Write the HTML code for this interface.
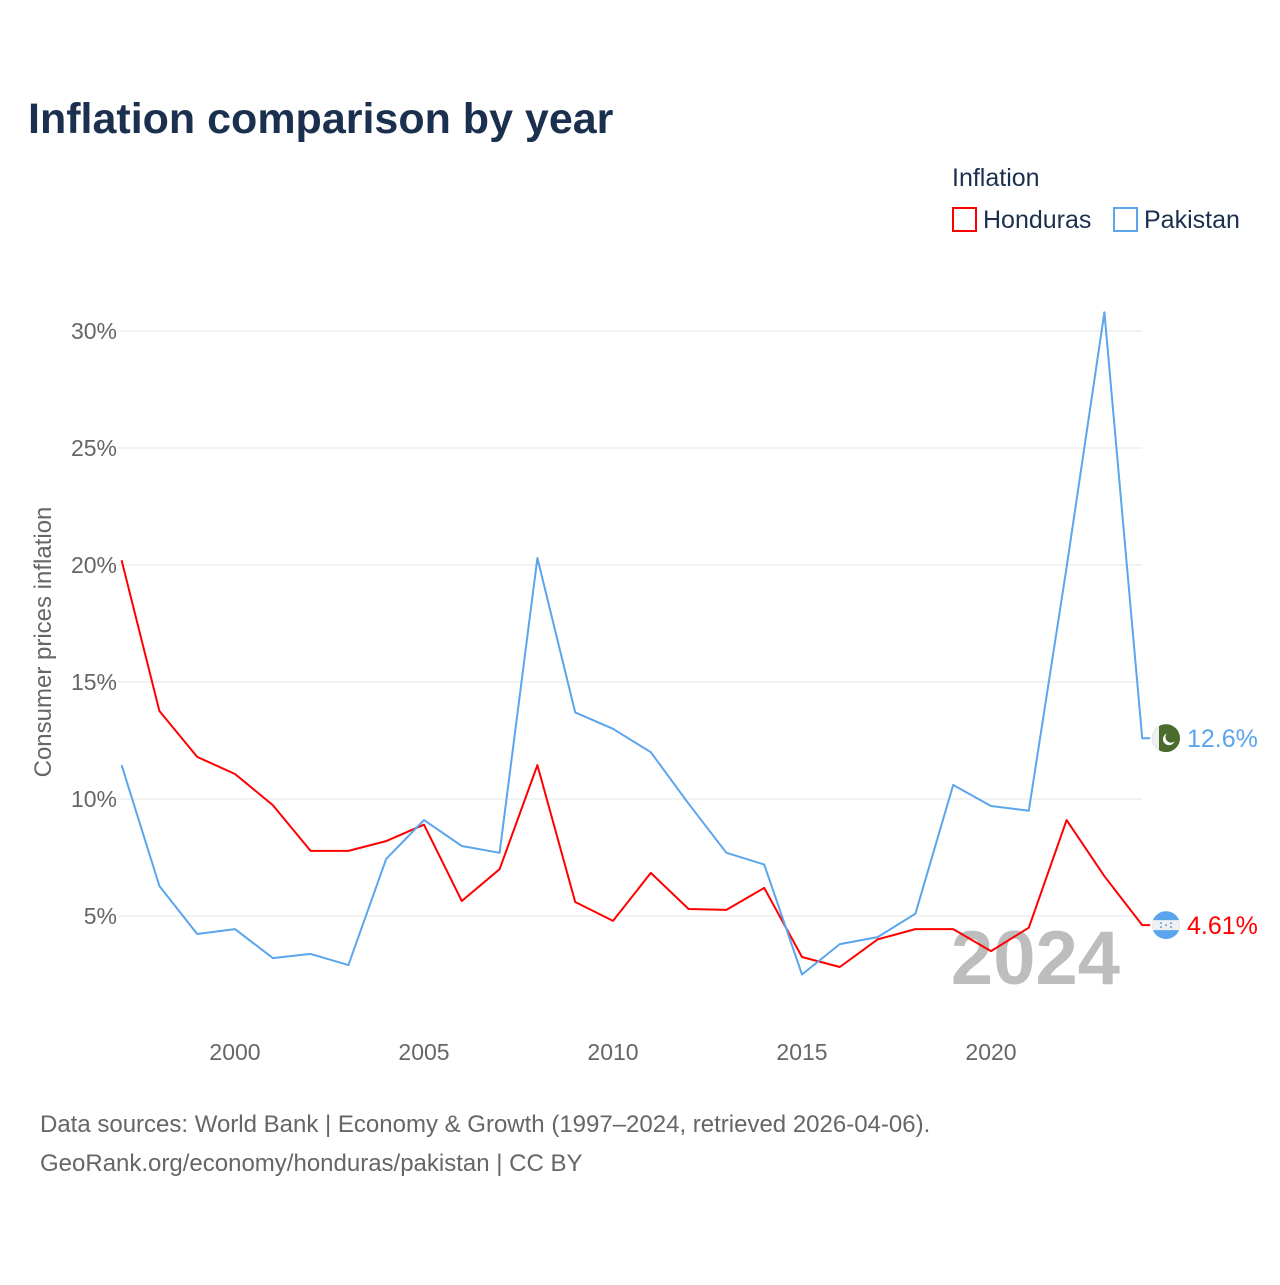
<!DOCTYPE html>
<html><head><meta charset="utf-8"><style>
body{margin:0;background:#fff;font-family:"Liberation Sans",sans-serif}
svg text{font-family:"Liberation Sans",sans-serif}
</style></head><body>
<svg id="chart" width="1280" height="1280" viewBox="0 0 1280 1280" xmlns="http://www.w3.org/2000/svg">
<defs><clipPath id="flagclip1"><circle cx="1166" cy="736" r="14"/></clipPath><clipPath id="flagclip2"><circle cx="1166" cy="922" r="14"/></clipPath></defs>
<rect width="1280" height="1280" fill="#fff"/>
<text x="28" y="133" font-size="43" font-weight="bold" fill="#1b2f4e">Inflation comparison by year</text>
<text x="952" y="186" font-size="25" fill="#1b2f4e">Inflation</text>
<g><rect x="953" y="208" width="23" height="23" fill="none" stroke="#f00" stroke-width="2"/><text x="983" y="228" font-size="25" fill="#1b2f4e">Honduras</text></g>
<g><rect x="1114" y="208" width="23" height="23" fill="none" stroke="#5aa5ec" stroke-width="2"/><text x="1144" y="228" font-size="25" fill="#1b2f4e">Pakistan</text></g>
<g id="grid"></g>
<g id="yticks"></g>
<g id="xticks"></g>
<text transform="translate(51,642) rotate(-90)" text-anchor="middle" font-size="24" fill="#666">Consumer prices inflation</text>
<text x="1120" y="984" text-anchor="end" font-size="76" font-weight="bold" fill="#bdbdbd">2024</text>
<g id="lines"></g>
<g id="ends"></g>
<text x="40" y="1132" font-size="24" fill="#666">Data sources: World Bank | Economy &amp; Growth (1997–2024, retrieved 2026-04-06).</text>
<text x="40" y="1171" font-size="24" fill="#666">GeoRank.org/economy/honduras/pakistan | CC BY</text>
</svg>
<script>
const years=[1997,1998,1999,2000,2001,2002,2003,2004,2005,2006,2007,2008,2009,2010,2011,2012,2013,2014,2015,2016,2017,2018,2019,2020,2021,2022,2023,2024];
const honduras=[20.2,13.76,11.8,11.07,9.74,7.78,7.78,8.2,8.9,5.64,7.0,11.45,5.6,4.79,6.84,5.3,5.26,6.2,3.25,2.82,4.0,4.44,4.44,3.5,4.5,9.1,6.7,4.61];
const pakistan=[11.45,6.28,4.23,4.44,3.2,3.38,2.9,7.44,9.1,7.99,7.7,20.3,13.7,13.0,12.0,9.8,7.7,7.2,2.5,3.8,4.1,5.1,10.6,9.7,9.5,19.9,30.8,12.6];
const yTicks=[5,10,15,20,25,30];
const xTicks=[2000,2005,2010,2015,2020];
const NS="http://www.w3.org/2000/svg";
const x=yr=>121.6+(yr-1997)*37.8;
const y=v=>916-(v-5)*23.4;
function mk(tag,attrs,parent){const e=document.createElementNS(NS,tag);for(const k in attrs)e.setAttribute(k,attrs[k]);parent.appendChild(e);return e;}
const grid=document.getElementById('grid'),yt=document.getElementById('yticks'),xt=document.getElementById('xticks'),lines=document.getElementById('lines'),ends=document.getElementById('ends');
yTicks.forEach(t=>{
 const l=mk('line',{x1:118,x2:1142,y1:y(t),y2:y(t),stroke:'#e6e6e6','stroke-width':1},grid);
 
 
 const tx=mk('text',{x:117,y:y(t)+8,'text-anchor':'end','font-size':23,fill:'#666'},yt);
 tx.textContent=t+'%';
 
 
});
xTicks.forEach(t=>{
 const tx=mk('text',{x:x(t),y:1060,'text-anchor':'middle','font-size':23,fill:'#666'},xt);
 tx.textContent=t;
 
 
});
function series(vals,color,name){
 let d=vals.map((v,i)=>(i?'L':'M')+x(years[i]).toFixed(1)+','+y(v).toFixed(1)).join(' ');
 d+=' H'+(x(years[years.length-1])+8);
 const p=mk('path',{d:d,fill:'none',stroke:color,'stroke-width':2,'stroke-linejoin':'round'},lines);
 
 
}
series(honduras,'#f00','honduras');
series(pakistan,'#5aa5ec','pakistan');
const pv=pakistan[pakistan.length-1],hv=honduras[honduras.length-1];
const cx=1166;
const py=y(pv),hy=y(hv);
document.querySelector('#flagclip1 circle').setAttribute('cy',py);
document.querySelector('#flagclip2 circle').setAttribute('cy',hy);
const pg=mk('g',{'clip-path':'url(#flagclip1)'},ends);


mk('rect',{x:cx-14,y:py-14,width:28,height:28,fill:'#4a6d2e'},pg);
mk('rect',{x:cx-14,y:py-14,width:7,height:28,fill:'#f0f0f0'},pg);
mk('circle',{cx:cx+3,cy:py+1,r:6,fill:'#fff'},pg);
mk('circle',{cx:cx+5,cy:py-1,r:5.5,fill:'#4a6d2e'},pg);
const pl=mk('text',{x:1187,y:py+9,'font-size':25,fill:'#5aa5ec'},ends);
pl.textContent=pv+'%';


const hg=mk('g',{'clip-path':'url(#flagclip2)'},ends);


mk('rect',{x:cx-14,y:hy-14,width:28,height:28,fill:'#5aa5ec'},hg);
mk('rect',{x:cx-14,y:hy-5,width:28,height:10,fill:'#f0f0f0'},hg);
[[-5,-2],[5,-2],[0,0],[-5,2],[5,2]].forEach(([dx,dy])=>mk('circle',{cx:cx+dx,cy:hy+dy,r:1,fill:'#5aa5ec'},hg));
const hl=mk('text',{x:1187,y:hy+9,'font-size':25,fill:'#f00'},ends);
hl.textContent=hv+'%';


</script>
</body></html>
